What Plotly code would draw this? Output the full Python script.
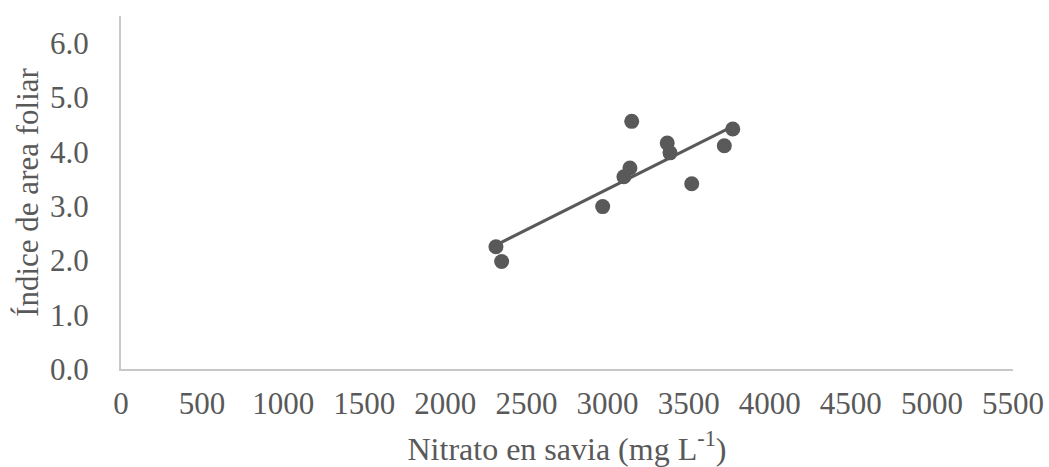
import numpy as np
import plotly.graph_objects as go

nitrato = [2312, 2347, 2970, 3101, 3138, 3149, 3368, 3385, 3519, 3720, 3772]
iaf = [2.25, 1.98, 2.99, 3.54, 3.70, 4.56, 4.16, 3.98, 3.41, 4.11, 4.42]
x_ticks = [0, 500, 1000, 1500, 2000, 2500, 3000, 3500, 4000, 4500, 5000, 5500]
y_ticks = [0, 1, 2, 3, 4, 5, 6]
y_tick_labels = ["0.0", "1.0", "2.0", "3.0", "4.0", "5.0", "6.0"]

slope, intercept = np.polyfit(nitrato, iaf, 1)
x_line = [min(nitrato), max(nitrato)]
y_line = [slope * v + intercept for v in x_line]

FONT = "Liberation Serif, Times New Roman, serif"
GRAY = "#595959"

fig = go.Figure()
fig.add_trace(go.Scatter(x=x_line, y=y_line, mode="lines",
                         line=dict(color=GRAY, width=3), hoverinfo="skip"))
fig.add_trace(go.Scatter(x=nitrato, y=iaf, mode="markers",
                         marker=dict(color=GRAY, size=15)))

fig.update_layout(
    width=1049, height=467,
    margin=dict(l=121, r=36, t=16, b=98),
    paper_bgcolor="white", plot_bgcolor="white",
    showlegend=False,
    font=dict(family=FONT, size=31, color=GRAY),
)
fig.update_xaxes(
    range=[0, 5500], tickvals=x_ticks, ticktext=[str(v) for v in x_ticks],
    showgrid=False, zeroline=False, showline=True, linecolor="#c8c8c8", linewidth=2,
    ticks="outside", ticklen=6, tickcolor="rgba(0,0,0,0)", automargin=False,
    title=dict(text="Nitrato en savia (mg L<sup>-1</sup>)", standoff=17,
               font=dict(family=FONT, size=32, color=GRAY)),
)
fig.update_yaxes(
    range=[0, 6.5], tickvals=y_ticks, ticktext=y_tick_labels,
    showgrid=False, zeroline=False, showline=True, linecolor="#c8c8c8", linewidth=2,
    ticks="outside", ticklen=24, tickcolor="rgba(0,0,0,0)", automargin=False,
    title=dict(text="Índice de area foliar", standoff=2,
               font=dict(family=FONT, size=31, color=GRAY)),
)

fig.write_html("out.html")
